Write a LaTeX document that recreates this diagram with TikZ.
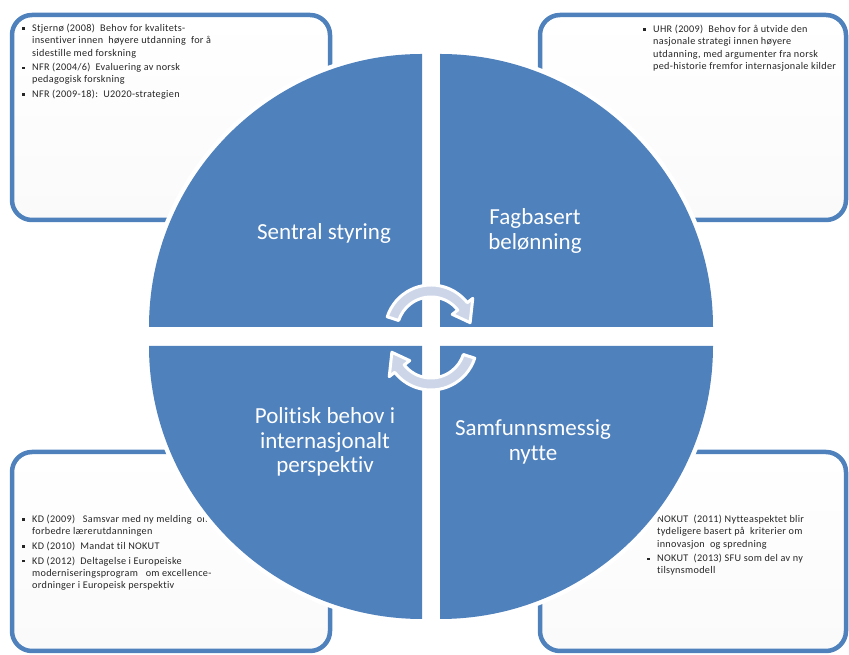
\documentclass[tikz,border=0pt]{standalone}
\usepackage{fontspec}
\setmainfont{Carlito}[Ligatures=NoCommon]
\newfontfamily\boxfont{Carlito}[Ligatures=NoCommon, LetterSpace=3]
\definecolor{qblue}{RGB}{79,129,189}
\definecolor{boxblue}{RGB}{79,129,189}
\definecolor{arrowfill}{RGB}{204,214,232}
\newcommand{\bitem}{\makebox[10pt][l]{\rule[1.8pt]{2.4pt}{2.4pt}}}
\newcommand{\bcont}{\hspace*{10pt}}
\begin{document}
\begin{tikzpicture}[x=1pt,y=1pt,
  infobox/.style={draw=boxblue, line width=4.5pt, rounded corners=20pt, top color=white, bottom color=gray!4, inner sep=0pt},
  quad/.style={fill=qblue},
  halo/.style={draw=white, line width=9pt},
  qlabel/.style={text=white, font=\fontsize{23}{24.8}\selectfont, align=center, inner sep=0pt},
  btext/.style={font=\boxfont\fontsize{10.2}{12.2}\selectfont, align=left, anchor=north west, inner sep=0pt, text=black!85},
  cyc/.style={fill=arrowfill, draw=white, line width=3pt, line join=round}
]
\useasboundingbox (0,0) rectangle (849,655);
% info boxes
\node[infobox, minimum width=318pt, minimum height=205pt] (b1) at (171,537.5) {};
\node[infobox, minimum width=306pt, minimum height=205pt] (b2) at (693,537.5) {};
\node[infobox, minimum width=318pt, minimum height=199pt] (b3) at (171,103.5) {};
\node[infobox, minimum width=306pt, minimum height=199pt] (b4) at (693,103.5) {};
% box texts
\node[btext] (t1) at (22,631) {\bitem Stjernø (2008)\ \ Behov\ for\ kvalitets-\\ \bcont insentiver innen\ \ høyere utdanning\ \ for å\\ \bcont sidestille\ med forskning\\[2.5pt] \bitem NFR (2004/6)\ \ Evaluering av norsk\\ \bcont pedagogisk forskning\\[2.5pt] \bitem NFR (2009-18):\ \ U2020-strategien};
\node[btext] (t2) at (643,630) {\bitem UHR (2009)\ \ Behov\ for å utvide den\\ \bcont nasjonale strategi innen høyere\\ \bcont utdanning, med\ argumenter fra norsk\\ \bcont ped-historie\ fremfor\ internasjonale kilder};
\node[btext] (t3) at (22,140) {\bitem KD (2009)\ \ \ Samsvar med ny melding\ \ om\\ \bcont forbedre\ lærerutdanningen\\[2.5pt] \bitem KD (2010)\ \ Mandat\ til NOKUT\\[2.5pt] \bitem KD (2012)\ \ Deltagelse i Europeiske\\ \bcont moderniseringsprogram\ \ \ om excellence-\\ \bcont ordninger i Europeisk perspektiv};
\node[btext] (t4) at (647,140) {\bcont NOKUT\ \ (2011) Nytteaspektet blir\\ \bcont tydeligere basert på\ \ kriterier om\\ \bcont innovasjon\ \ og spredning\\[2.5pt] \bitem NOKUT\ \ (2013) SFU som\ del\ av ny\\ \bcont tilsynsmodell};
% quadrant halos
\draw[halo] (422,328) -- ++(-273,0) arc[start angle=180,end angle=90,radius=273] -- cycle;
\draw[halo] (440,328) -- ++(0,273) arc[start angle=90,end angle=0,radius=273] -- cycle;
\draw[halo] (422,309) -- ++(-273,0) arc[start angle=180,end angle=270,radius=273] -- cycle;
\draw[halo] (440,309) -- ++(273,0) arc[start angle=0,end angle=-90,radius=273] -- cycle;
% quadrants
\fill[quad] (422,328) -- ++(-273,0) arc[start angle=180,end angle=90,radius=273] -- cycle;
\fill[quad] (440,328) -- ++(0,273) arc[start angle=90,end angle=0,radius=273] -- cycle;
\fill[quad] (422,309) -- ++(-273,0) arc[start angle=180,end angle=270,radius=273] -- cycle;
\fill[quad] (440,309) -- ++(273,0) arc[start angle=0,end angle=-90,radius=273] -- cycle;
% labels
\node[qlabel] (l1) at (324,421) {Sentral styring};
\node[qlabel] (l2) at (535,424) {Fagbasert\\belønning};
\node[qlabel] (l3) at (325,213) {Politisk behov i\\internasjonalt\\perspektiv};
\node[qlabel] (l4) at (533,213) {Samfunnsmessig\\nytte};
% cycle arrows
\begin{scope}[shift={(431,324)}]
\draw[cyc] (162:46) arc[start angle=162,end angle=38,radius=46] -- (38:53) -- (12:40) -- (38:27) -- (38:34) arc[start angle=38,end angle=162,radius=34] -- cycle;
\end{scope}
\begin{scope}[shift={(431,311)}, rotate=180]
\draw[cyc] (162:46) arc[start angle=162,end angle=38,radius=46] -- (38:53) -- (12:40) -- (38:27) -- (38:34) arc[start angle=38,end angle=162,radius=34] -- cycle;
\end{scope}
\end{tikzpicture}
\end{document}
